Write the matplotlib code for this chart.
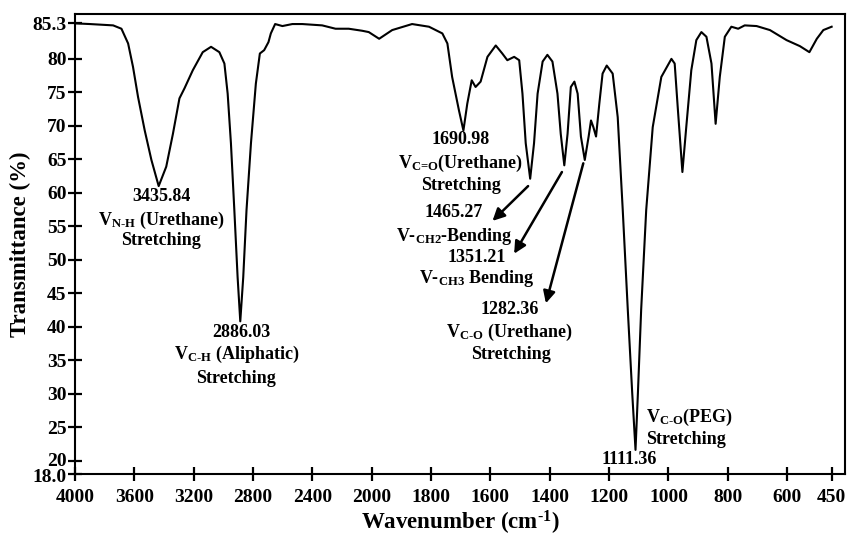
#!/usr/bin/env python

# FTIR spectrum of the PEG based polyurethane, with the band assignments

import numpy
import matplotlib
matplotlib.use('Agg')
from matplotlib.backends.backend_agg import \
                 FigureCanvasAgg as FigureCanvas
from matplotlib.figure import Figure
from matplotlib.transforms import ScaledTranslation

# Spectrum
wavenumber=[4000,3900,3743,3687,3642,3609,3575,3530,3485,3436,3385,3340,
            3296,3262,3206,3139,3083,3027,2993,2971,2949,2926,2904,2886,
            2866,2844,2814,2781,2754,2725,2696,2680,2651,2602,2535,2468,
            2334,2244,2155,2065,2020,1975,1931,1864,1807,1762,1745,1729,
            1706,1691,1678,1663,1650,1633,1610,1582,1560,1543,1520,1503,
            1492,1481,1466,1453,1441,1424,1408,1391,1374,1363,1351,1340,
            1329,1317,1306,1295,1282,1269,1261,1253,1244,1233,1222,1208,
            1188,1171,1154,1137,1122,1111,1103,1092,1075,1053,1024,990,
            979,968,953,940,923,906,889,872,855,841,827,810,788,765,743,
            703,658,602,557,525,500,478,450]
transmittance=[85.3,85.2,85.0,84.5,82.3,78.8,74.3,69.3,64.9,61.0,63.9,68.8,
               74.1,75.6,78.3,81.0,81.8,81.0,79.3,74.8,67.4,57.4,47.4,40.8,
               47.4,57.4,67.4,76.3,80.8,81.3,82.5,83.8,85.2,84.9,85.2,85.2,
               85.0,84.5,84.5,84.2,84.0,83.0,84.3,85.2,84.8,83.8,82.3,77.3,
               72.3,69.3,73.3,76.8,75.8,76.6,80.3,82.0,80.8,79.8,80.3,79.8,
               74.8,67.4,62.1,67.4,74.8,79.6,80.6,79.6,74.8,68.8,64.1,68.8,
               75.8,76.6,74.8,68.4,64.9,68.4,70.8,69.8,68.4,73.3,77.8,79.0,
               77.8,71.3,57.4,42.5,30.0,21.6,30.0,42.5,57.4,69.8,77.3,80.0,
               79.3,72.3,63.1,69.8,78.3,82.8,84.0,83.3,79.3,70.3,77.3,83.3,
               84.8,84.5,85.0,84.9,84.3,82.8,81.9,81.0,83.0,84.3,84.8]

x_ticks=[4000,3600,3200,2800,2400,2000,1800,1600,1400,1200,1000,800,600,450]
y_ticks=[18,20,25,30,35,40,45,50,55,60,65,70,75,80,85.3]
y_ticklabels=['18.0','20','25','30','35','40','45','50','55','60','65',
              '70','75','80','85.3']

# Band labels: (wavenumber, transmittance, text, alignment)
labels=[(3418,59.4,'3435.84','center'),
        (3418,55.9,r'V$_{\text{N-H}}$ (Urethane)','center'),
        (3418,52.9,'Stretching','center'),
        (2881,39.2,'2886.03','center'),
        (2913,35.8,r'V$_{\text{C-H}}$ (Aliphatic)','center'),
        (2913,32.3,'Stretching','center'),
        (1700,67.9,'1690.98','center'),
        (1700,64.4,r'V$_{\text{C=O}}$(Urethane)','center'),
        (1700,61.1,'Stretching','center'),
        (1723,57.0,'1465.27','center'),
        (1723,53.4,r'V-$_{\text{CH2}}$-Bending','center'),
        (1647,50.4,'1351.21','center'),
        (1647,47.2,r'V-$_{\text{CH3}}$ Bending','center'),
        (1535,42.6,'1282.36','center'),
        (1535,39.1,r'V$_{\text{C-O}}$ (Urethane)','center'),
        (1530,35.8,'Stretching','center'),
        (1075,26.5,r'V$_{\text{C-O}}$(PEG)','left'),
        (1075,23.1,'Stretching','left'),
        (1131,20.1,'1111.36','center')]

# Arrows: peak tip -> label
arrows=[((1473,61.0),(1593,55.8)),
        ((1359,63.1),(1520,50.9)),
        ((1287,64.4),(1413,43.5))]

# Set up the plot
fig=Figure(figsize=(8.48,5.40),
           dpi=100,
           facecolor='white')
canvas=FigureCanvas(fig)
matplotlib.rcParams['font.family']='Liberation Serif'
matplotlib.rcParams['font.weight']='bold'
matplotlib.rcParams['mathtext.fontset']='custom'
matplotlib.rcParams['mathtext.rm']='Liberation Serif:bold'
matplotlib.rcParams['mathtext.it']='Liberation Serif:bold'
matplotlib.rcParams['mathtext.bf']='Liberation Serif:bold'

ax=fig.add_axes([75/848,66/540,770/848,460/540])

# x axis is compressed by 2 above 2000 cm-1
def fwd(x):
    x=numpy.asarray(x,dtype=float)
    return numpy.where(x>2000,2000+(x-2000)/2.0,x)
def inv(y):
    y=numpy.asarray(y,dtype=float)
    return numpy.where(y>2000,2000+(y-2000)*2.0,y)
ax.set_xscale('function',functions=(fwd,inv))
ax.set_xlim(4000,405)
ax.set_ylim(18,86.7)

ax.plot(wavenumber,transmittance,color='black',linewidth=1.5,zorder=10)

ax.set_xticks(x_ticks)
ax.set_xticklabels([str(t) for t in x_ticks])
ax.set_yticks(y_ticks)
ax.set_yticklabels(y_ticklabels)
ax.minorticks_off()
ax.tick_params(axis='both',direction='inout',length=10,width=1.6,
               labelsize=14,colors='black')
ax.tick_params(axis='y',pad=1)
ax.tick_params(axis='x',pad=6)
for s in ax.spines.values():
    s.set_linewidth(1.5)

# the two lowest y labels sit very close, nudge them apart a little
ylab=ax.get_yticklabels()
ylab[0].set_transform(ylab[0].get_transform()+
                      ScaledTranslation(0,-2/100.,fig.dpi_scale_trans))
ylab[1].set_transform(ylab[1].get_transform()+
                      ScaledTranslation(0,1.5/100.,fig.dpi_scale_trans))

ax.set_xlabel(r'Wavenumber (cm$^{\text{-1}}$)',fontsize=16.5,
              fontweight='bold',labelpad=2)
ax.set_ylabel('Transmittance (%)',fontsize=16.5,fontweight='bold',
              labelpad=1)

for x,y,t,ha in labels:
    ax.text(x,y,t,ha=ha,va='center',fontsize=13,zorder=20)

for tip,end in arrows:
    ax.annotate('',xy=end,xytext=tip,
                arrowprops=dict(arrowstyle='-|>',color='black',lw=1.8,
                                mutation_scale=18,shrinkA=0,shrinkB=0),
                zorder=20)

fig.savefig('out.png')
